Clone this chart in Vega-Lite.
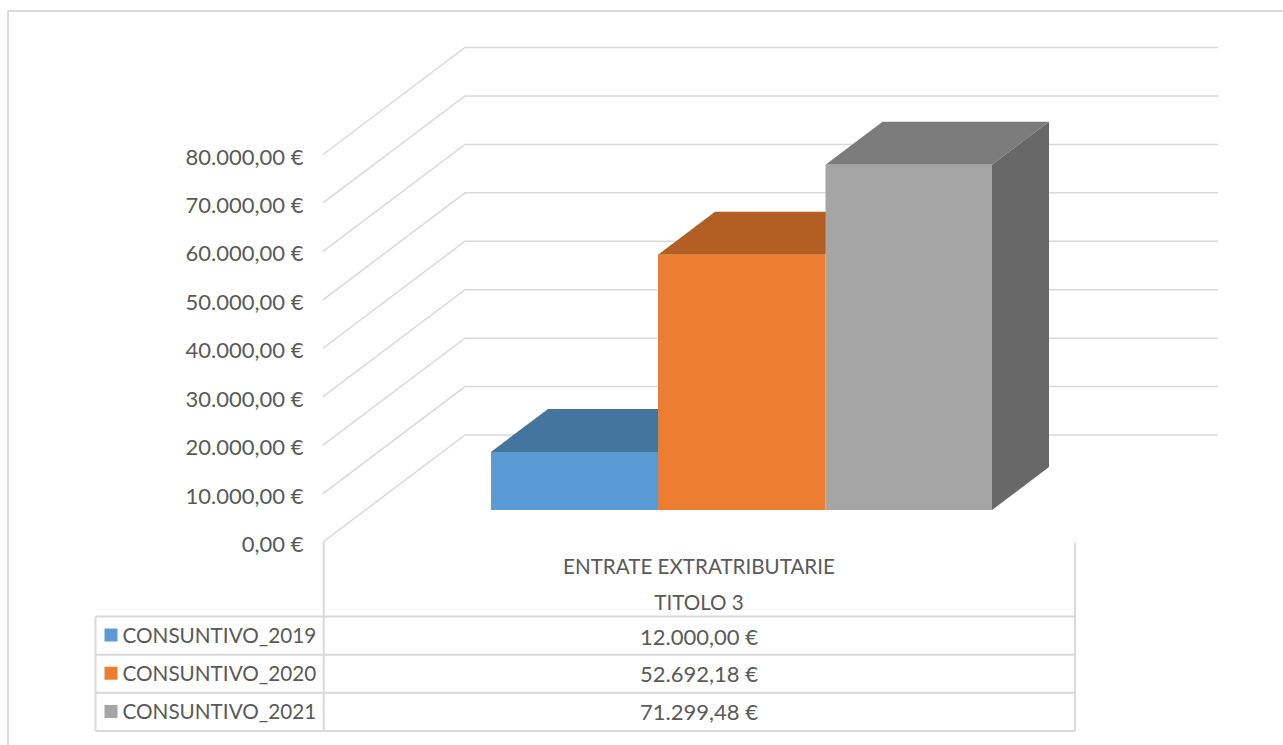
{
"$schema":"https://vega.github.io/schema/vega-lite/v6.json",
"width":1283,"height":745,"padding":0,"autosize":{"type":"none"},
"background":"#ffffff",
"config":{"view":{"stroke":null},"locale":{"number":{"decimal":",","thousands":".","grouping":[3],"currency":["","\u00a0€"]}}},
"resolve":{"scale":{"y":"independent","color":"independent"},"axis":{"y":"independent"}},
"layer":[
{"data":{"values":[{"a":8,"b":8,"lo":0,"hi":1},{"a":8,"b":1283,"lo":1,"hi":1}]},
 "mark":{"type":"rule","color":"#d9d9d9","strokeWidth":2},
 "encoding":{"x":{"field":"a","type":"quantitative","scale":{"domain":[0,1283]},"axis":null},"x2":{"field":"b"},
  "y":{"field":"lo","type":"quantitative","scale":{"domain":[0,1],"range":[745,11]},"axis":null},"y2":{"field":"hi"}}},
{"data":{"values":[
 {"level":0,"pos":323,"v":0},{"level":0,"pos":465,"v":22090},{"level":0,"pos":1218,"v":22090},
 {"level":10000,"pos":323,"v":10000},{"level":10000,"pos":465,"v":32090},{"level":10000,"pos":1218,"v":32090},
 {"level":20000,"pos":323,"v":20000},{"level":20000,"pos":465,"v":42090},{"level":20000,"pos":1218,"v":42090},
 {"level":30000,"pos":323,"v":30000},{"level":30000,"pos":465,"v":52090},{"level":30000,"pos":1218,"v":52090},
 {"level":40000,"pos":323,"v":40000},{"level":40000,"pos":465,"v":62090},{"level":40000,"pos":1218,"v":62090},
 {"level":50000,"pos":323,"v":50000},{"level":50000,"pos":465,"v":72090},{"level":50000,"pos":1218,"v":72090},
 {"level":60000,"pos":323,"v":60000},{"level":60000,"pos":465,"v":82090},{"level":60000,"pos":1218,"v":82090},
 {"level":70000,"pos":323,"v":70000},{"level":70000,"pos":465,"v":92090},{"level":70000,"pos":1218,"v":92090},
 {"level":80000,"pos":323,"v":80000},{"level":80000,"pos":465,"v":102090},{"level":80000,"pos":1218,"v":102090}
 ]},
 "mark":{"type":"line","color":"#d9d9d9","strokeWidth":1.5},
 "encoding":{"x":{"field":"pos","type":"quantitative","scale":{"domain":[0,1283]},"axis":null},
  "detail":{"field":"level"},
  "y":{"field":"v","type":"quantitative","scale":{"domain":[0,80000],"range":[542,154.5]},
   "axis":{"orient":"left","offset":-303,"values":[0,10000,20000,30000,40000,50000,60000,70000,80000],"format":"$,.2f","domain":false,"ticks":false,"grid":false,"title":null,"labelPadding":0,"labelOffset":2.5,"labelFont":"Lato","labelFontSize":22,"labelColor":"#595959"}}}},
{"data":{"values":[
 {"face":"top19","pos":491,"t":12000,"b":12000},{"face":"top19","pos":548,"t":20877,"b":12000},{"face":"top19","pos":658,"t":20877,"b":12000},{"face":"top19","pos":715,"t":20877,"b":20877},
 {"face":"top20","pos":658,"t":52692,"b":52692},{"face":"top20","pos":715,"t":61569,"b":52692},{"face":"top20","pos":825,"t":61569,"b":52692},{"face":"top20","pos":882,"t":61569,"b":61569},
 {"face":"top21","pos":825.5,"t":71299,"b":71299},{"face":"top21","pos":882.5,"t":80176,"b":71299},{"face":"top21","pos":992,"t":80176,"b":71299},{"face":"top21","pos":1049,"t":80176,"b":80176},
 {"face":"side21","pos":992,"t":71299,"b":0},{"face":"side21","pos":1049,"t":80176,"b":8877}
 ]},
 "mark":{"type":"area","opacity":1},
 "encoding":{"x":{"field":"pos","type":"quantitative","scale":{"domain":[0,1283]},"axis":null},
  "y":{"field":"t","type":"quantitative","stack":null,"scale":{"domain":[0,80000],"range":[510,122.5]},"axis":null},"y2":{"field":"b"},
  "detail":{"field":"face"},
  "color":{"field":"face","type":"nominal","scale":{"domain":["top19","top20","top21","side21"],"range":["#44759f","#b35e23","#7c7c7c","#686868"]},"legend":null}}},
{"data":{"values":[
 {"series":"CONSUNTIVO_2019","value":12000,"base":0,"from":491,"to":658},
 {"series":"CONSUNTIVO_2020","value":52692.18,"base":0,"from":658,"to":825.5},
 {"series":"CONSUNTIVO_2021","value":71299.48,"base":0,"from":825.5,"to":992}
 ]},
 "mark":{"type":"rect"},
 "encoding":{"x":{"field":"from","type":"quantitative","scale":{"domain":[0,1283]},"axis":null},"x2":{"field":"to"},
  "y":{"field":"value","type":"quantitative","scale":{"domain":[0,80000],"range":[510,122.5]},"axis":null},"y2":{"field":"base"},
  "color":{"field":"series","type":"nominal","scale":{"domain":["CONSUNTIVO_2019","CONSUNTIVO_2020","CONSUNTIVO_2021"],"range":["#5b9bd5","#ed7d31","#a5a5a5"]},"legend":null}}},
{"data":{"values":[
 {"a":95.5,"b":1075,"lo":0,"hi":0},{"a":95.5,"b":1075,"lo":1,"hi":1},{"a":95.5,"b":1075,"lo":2,"hi":2},{"a":95.5,"b":1075,"lo":3,"hi":3},
 {"a":95.5,"b":95.5,"lo":0,"hi":3},{"a":323.7,"b":323.7,"lo":-1.95,"hi":3},{"a":1075,"b":1075,"lo":-1.93,"hi":3}
 ]},
 "mark":{"type":"rule","color":"#d9d9d9","strokeWidth":2},
 "encoding":{"x":{"field":"a","type":"quantitative","scale":{"domain":[0,1283]},"axis":null},"x2":{"field":"b"},
  "y":{"field":"lo","type":"quantitative","scale":{"domain":[0,3],"range":[616.5,731]},"axis":null},"y2":{"field":"hi"}}},
{"data":{"values":[{"row":"ENTRATE EXTRATRIBUTARIE"},{"row":"TITOLO 3"}]},
 "mark":{"type":"text","font":"Lato","fontSize":20.6,"color":"#595959","align":"center","baseline":"middle"},
 "encoding":{"x":{"datum":699,"type":"quantitative","scale":{"domain":[0,1283]},"axis":null},
  "y":{"field":"row","type":"ordinal","scale":{"type":"point","padding":0,"domain":["ENTRATE EXTRATRIBUTARIE","TITOLO 3"],"range":[567.5,603.5]},"axis":null},
  "text":{"field":"row"}}},
{"data":{"values":[
 {"series":"CONSUNTIVO_2019","value":12000},{"series":"CONSUNTIVO_2020","value":52692.18},{"series":"CONSUNTIVO_2021","value":71299.48}]},
 "mark":{"type":"text","font":"Lato","fontSize":22,"color":"#595959","align":"center","baseline":"middle"},
 "encoding":{"x":{"datum":699,"type":"quantitative","scale":{"domain":[0,1283]},"axis":null},
  "y":{"field":"series","type":"ordinal","scale":{"type":"point","padding":0,"domain":["CONSUNTIVO_2019","CONSUNTIVO_2020","CONSUNTIVO_2021"],"range":[637.5,713]},"axis":null},
  "text":{"field":"value","type":"quantitative","format":"$,.2f"}}},
{"data":{"values":[{"series":"CONSUNTIVO_2019"},{"series":"CONSUNTIVO_2020"},{"series":"CONSUNTIVO_2021"}]},
 "mark":{"type":"text","font":"Lato","fontSize":20.7,"color":"#595959","align":"left","baseline":"middle"},
 "encoding":{"x":{"datum":122.5,"type":"quantitative","scale":{"domain":[0,1283]},"axis":null},
  "y":{"field":"series","type":"ordinal","scale":{"type":"point","padding":0,"domain":["CONSUNTIVO_2019","CONSUNTIVO_2020","CONSUNTIVO_2021"],"range":[636.5,713]},"axis":null},
  "text":{"field":"series"}}},
{"data":{"values":[{"series":"CONSUNTIVO_2019"},{"series":"CONSUNTIVO_2020"},{"series":"CONSUNTIVO_2021"}]},
 "mark":{"type":"point","shape":"square","filled":true,"size":169,"opacity":1},
 "encoding":{"x":{"datum":111,"type":"quantitative","scale":{"domain":[0,1283]},"axis":null},
  "y":{"field":"series","type":"ordinal","scale":{"type":"point","padding":0,"domain":["CONSUNTIVO_2019","CONSUNTIVO_2020","CONSUNTIVO_2021"],"range":[635,711.5]},"axis":null},
  "color":{"field":"series","type":"nominal","scale":{"domain":["CONSUNTIVO_2019","CONSUNTIVO_2020","CONSUNTIVO_2021"],"range":["#5b9bd5","#ed7d31","#a5a5a5"]},"legend":null}}}
]
}
